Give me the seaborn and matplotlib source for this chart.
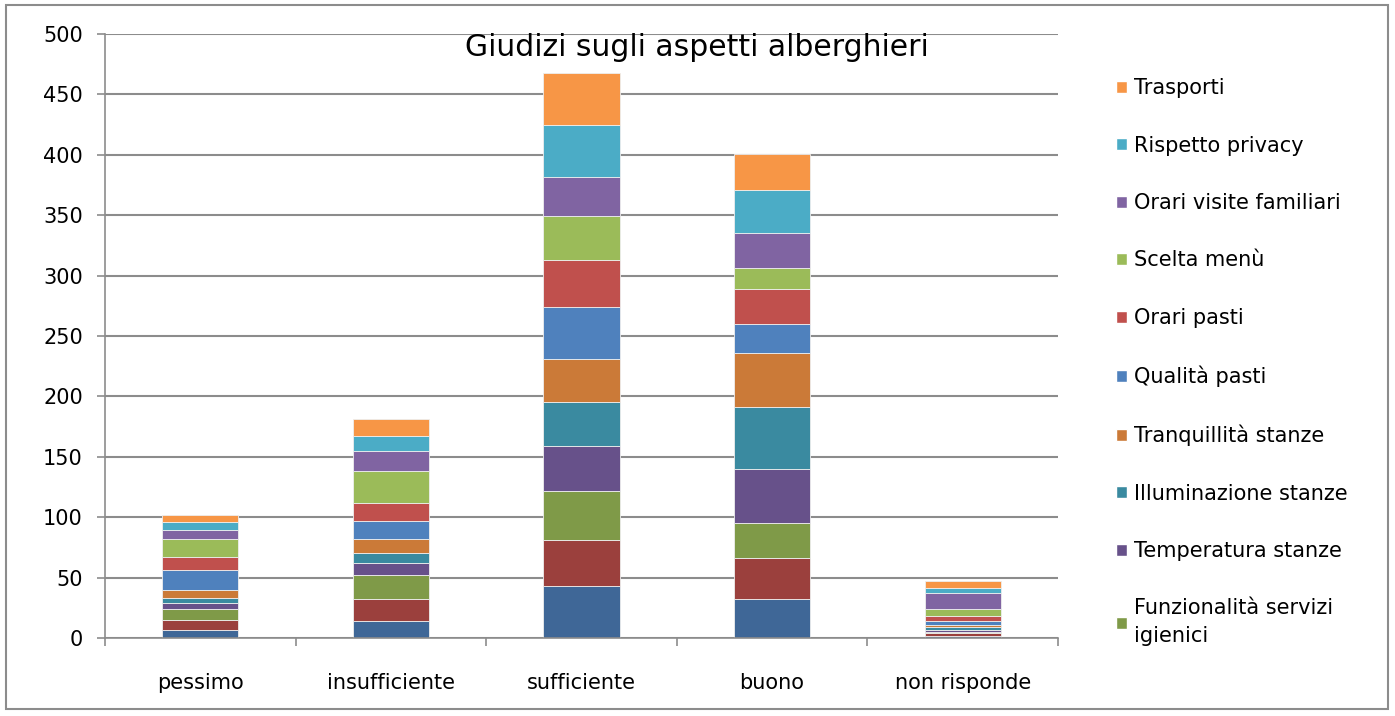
import numpy as np
import seaborn as sns
import matplotlib.pyplot as plt
from matplotlib.patches import Patch, Rectangle

# Categories on the x axis
giudizi = ['pessimo', 'insufficiente', 'sufficiente', 'buono', 'non risponde']

# Series, from the bottom of the stack to the top
# (the two lowest series are cut off in the original legend)
aspetti = ['Pulizia stanze', 'Comfort letti', 'Funzionalità servizi\nigienici',
           'Temperatura stanze', 'Illuminazione stanze', 'Tranquillità stanze',
           'Qualità pasti', 'Orari pasti', 'Scelta menù',
           'Orari visite familiari', 'Rispetto privacy', 'Trasporti']

pulizia_stanze = [7, 14, 43, 32, 2]
comfort_letti = [8, 18, 38, 34, 2]
servizi_igienici = [9, 20, 41, 29, 1]
temperatura = [5, 10, 37, 45, 2]
illuminazione = [4, 8, 36, 51, 2]
tranquillita = [7, 12, 36, 45, 2]
qualita_pasti = [16, 15, 43, 24, 3]
orari_pasti = [11, 15, 39, 29, 4]
scelta_menu = [15, 26, 36, 17, 6]
orari_visite = [7, 17, 33, 29, 13]
privacy = [7, 12, 43, 36, 4]
trasporti = [6, 14, 43, 30, 6]

serie = [pulizia_stanze, comfort_letti, servizi_igienici, temperatura,
         illuminazione, tranquillita, qualita_pasti, orari_pasti,
         scelta_menu, orari_visite, privacy, trasporti]

colori = ['#3f6797', '#9b403d', '#7f9a48', '#67518a', '#3a8aa0', '#cb7a38',
          '#4f81bd', '#c0504d', '#9bbb59', '#8064a2', '#4bacc6', '#f79646']

sns.set_style('white')
plt.rcParams['font.family'] = ['DejaVu Sans']
plt.rcParams['text.color'] = 'black'
plt.rcParams['xtick.color'] = 'black'
plt.rcParams['ytick.color'] = 'black'

W, H = 1395, 716
fig = plt.figure(figsize=(W / 100, H / 100), dpi=100)
ax = fig.add_axes([105 / W, 1 - 638 / H, (1058 - 105) / W, (638 - 34) / H])

# stacked bars, one barplot call per series
base = np.zeros(len(giudizi))
for nome, valori, colore in zip(aspetti, serie, colori):
    sns.barplot(x=giudizi, y=valori, bottom=base, color=colore, saturation=1,
                width=0.4, errorbar=None, edgecolor='#eeeeee', linewidth=0.6,
                ax=ax)
    base += np.array(valori)

grigio = '#8c8c8c'
ax.set_ylim(0, 500)
ax.set_yticks(range(0, 501, 50))
ax.set_xlim(-0.5, 4.5)
ax.yaxis.grid(True, color=grigio, linewidth=1.5)
ax.xaxis.grid(False)
ax.set_axisbelow(True)
for s in ['top', 'right']:
    ax.spines[s].set_visible(False)
for s in ['left', 'bottom']:
    ax.spines[s].set_color(grigio)
    ax.spines[s].set_linewidth(1.2)

ax.tick_params(axis='y', left=True, length=6, width=1.2, color=grigio,
               labelcolor='black', labelsize=15, pad=10)
ax.tick_params(axis='x', which='major', length=0, labelcolor='black',
               labelsize=15, pad=25)
ax.set_xticks(np.arange(-0.5, 5), minor=True)
ax.tick_params(axis='x', which='minor', bottom=True, length=6, width=1.2,
               color=grigio)

fig.text(697 / W, 1 - 47 / H, 'Giudizi sugli aspetti alberghieri',
         ha='center', va='center', fontsize=21.5, color='black')

# legend shows only the visible entries, top series first
handles = [Patch(facecolor=colori[i], label=aspetti[i]) for i in range(11, 1, -1)]
leg = fig.legend(handles=handles, loc='upper left',
                 bbox_to_anchor=(1116 / W, 1 - 78 / H), frameon=False,
                 fontsize=15, labelspacing=1.8, handlelength=0.52,
                 handleheight=0.52, handletextpad=0.33, borderpad=0,
                 borderaxespad=0)
for t in leg.get_texts():
    t.set_color('black')
    t.set_linespacing(1.5)

fig.patches.append(Rectangle((6 / W, 1 - 709 / H), (1388 - 6) / W, (709 - 5) / H,
                             transform=fig.transFigure, fill=False,
                             edgecolor=grigio, linewidth=1.5))

fig.savefig('out.png', dpi=100)
